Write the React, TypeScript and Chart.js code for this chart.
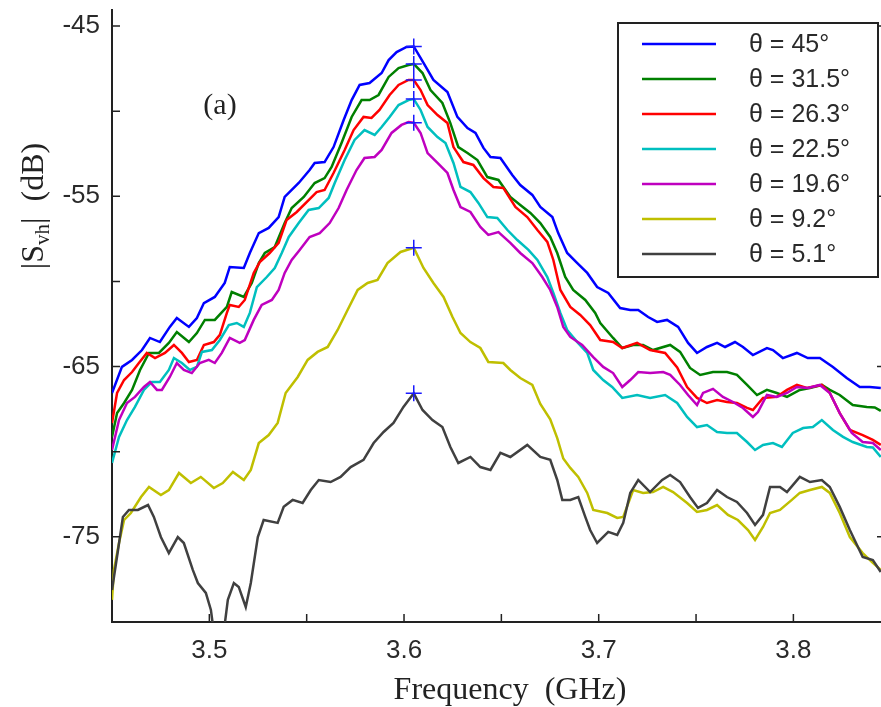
import React, { useEffect, useRef } from 'react';
import { Chart, registerables } from 'chart.js';
Chart.register(...registerables);

// ---- axis ticks ----
const xTicks = [3.5, 3.55, 3.6, 3.65, 3.7, 3.75, 3.8];
const xTickLabels = ['3.5', '', '3.6', '', '3.7', '', '3.8'];
const yTicks = [-75, -70, -65, -60, -55, -50, -45];
const yTickLabels = ['-75', '', '-65', '', '-55', '', '-45'];

// ---- series ----
const seriesLabels = ['θ = 45°', 'θ = 31.5°', 'θ = 26.3°', 'θ = 22.5°', 'θ = 19.6°', 'θ = 9.2°', 'θ = 5.1°'];
const seriesColors = ['#0000ff', '#008000', '#ff0000', '#00bfbf', '#bf00bf', '#bfbf00', '#404040'];

const peakFreq = 3.605;
const peakDb = [-46.2, -47.23, -48.17, -49.29, -50.68, -58.02, -66.57];

const s45: [number, number][] = [[3.4500,-66.55],[3.4551,-65.02],[3.4603,-64.61],[3.4654,-64.03],[3.4695,-63.32],[3.4746,-63.56],[3.4797,-62.67],[3.4833,-62.15],[3.4895,-62.67],[3.4936,-62.15],[3.4972,-61.27],[3.5028,-60.91],[3.5079,-60.09],[3.5105,-59.15],[3.5177,-59.21],[3.5208,-58.33],[3.5254,-57.16],[3.5305,-56.86],[3.5356,-56.22],[3.5387,-55.04],[3.5459,-54.22],[3.5515,-53.46],[3.5541,-53.04],[3.5592,-52.99],[3.5638,-52.11],[3.5690,-50.52],[3.5731,-49.35],[3.5772,-48.46],[3.5823,-48.35],[3.5885,-47.76],[3.5921,-47.00],[3.5962,-46.53],[3.6013,-46.23],[3.605,-46.2],[3.6100,-47.17],[3.6151,-48.17],[3.6223,-48.88],[3.6274,-50.34],[3.6326,-50.99],[3.6367,-51.28],[3.6408,-52.16],[3.6444,-52.69],[3.6495,-52.75],[3.6556,-53.75],[3.6597,-54.34],[3.6659,-54.92],[3.6700,-55.63],[3.6762,-56.22],[3.6792,-57.16],[3.6838,-58.33],[3.6890,-58.92],[3.6941,-59.50],[3.6992,-60.33],[3.7049,-60.68],[3.7110,-61.56],[3.7162,-61.68],[3.7203,-61.68],[3.7254,-62.09],[3.7300,-62.38],[3.7351,-62.26],[3.7408,-62.67],[3.7459,-63.61],[3.7505,-64.20],[3.7556,-63.85],[3.7608,-63.61],[3.7649,-63.85],[3.7700,-63.56],[3.7741,-63.85],[3.7792,-64.32],[3.7864,-63.91],[3.7895,-64.03],[3.7946,-64.50],[3.8018,-64.20],[3.8074,-64.50],[3.8136,-64.50],[3.8203,-65.02],[3.8274,-65.67],[3.8341,-66.20],[3.8392,-66.20],[3.8449,-66.26]];

const s315: [number, number][] = [[3.4500,-69.13],[3.4526,-67.73],[3.4562,-67.14],[3.4603,-66.37],[3.4644,-65.20],[3.4690,-64.20],[3.4741,-64.20],[3.4792,-63.61],[3.4833,-62.97],[3.4895,-63.56],[3.4936,-63.03],[3.4977,-62.26],[3.5028,-62.26],[3.5090,-61.50],[3.5115,-60.62],[3.5177,-60.91],[3.5218,-60.09],[3.5254,-58.92],[3.5285,-58.33],[3.5336,-57.98],[3.5387,-56.57],[3.5423,-55.69],[3.5485,-55.04],[3.5541,-54.22],[3.5592,-53.93],[3.5628,-53.28],[3.5679,-51.87],[3.5731,-50.34],[3.5782,-49.35],[3.5823,-49.35],[3.5869,-49.05],[3.5921,-47.99],[3.5972,-47.47],[3.6023,-47.29],[3.605,-47.23],[3.6095,-47.76],[3.6136,-48.76],[3.6197,-49.52],[3.6238,-50.70],[3.6279,-52.11],[3.6326,-52.46],[3.6377,-52.87],[3.6428,-53.87],[3.6485,-54.04],[3.6546,-55.04],[3.6597,-55.51],[3.6649,-55.98],[3.6700,-56.57],[3.6751,-57.39],[3.6787,-58.33],[3.6828,-59.74],[3.6869,-60.50],[3.6931,-61.09],[3.6982,-61.85],[3.7008,-62.44],[3.7074,-63.32],[3.7121,-63.91],[3.7177,-63.73],[3.7228,-63.73],[3.7279,-64.03],[3.7367,-63.73],[3.7418,-64.14],[3.7469,-65.08],[3.7521,-65.49],[3.7587,-65.32],[3.7659,-65.32],[3.7710,-65.49],[3.7762,-66.08],[3.7813,-66.67],[3.7864,-66.37],[3.7915,-66.55],[3.7967,-66.78],[3.8033,-66.37],[3.8085,-66.26],[3.8146,-66.08],[3.8187,-66.37],[3.8238,-66.67],[3.8305,-67.26],[3.8377,-67.37],[3.8418,-67.40],[3.8449,-67.60]];

const s263: [number, number][] = [[3.4500,-68.31],[3.4526,-66.55],[3.4562,-65.79],[3.4603,-65.32],[3.4638,-64.79],[3.4679,-64.20],[3.4721,-64.50],[3.4772,-64.20],[3.4818,-63.73],[3.4859,-64.20],[3.4895,-64.73],[3.4936,-64.61],[3.4972,-63.73],[3.5023,-63.56],[3.5054,-63.14],[3.5090,-61.85],[3.5105,-61.38],[3.5151,-61.50],[3.5182,-61.09],[3.5228,-59.50],[3.5259,-58.86],[3.5310,-58.33],[3.5356,-57.74],[3.5397,-56.39],[3.5449,-55.92],[3.5510,-55.22],[3.5551,-54.75],[3.5592,-54.63],[3.5638,-53.63],[3.5695,-52.28],[3.5741,-51.11],[3.5792,-50.34],[3.5833,-50.40],[3.5874,-49.93],[3.5926,-49.05],[3.5972,-48.46],[3.6023,-48.17],[3.605,-48.17],[3.6085,-48.76],[3.6121,-49.64],[3.6172,-50.23],[3.6223,-50.70],[3.6254,-52.11],[3.6305,-52.99],[3.6356,-53.16],[3.6408,-53.93],[3.6459,-54.45],[3.6510,-54.51],[3.6572,-55.63],[3.6633,-56.22],[3.6685,-56.98],[3.6736,-57.68],[3.6767,-58.74],[3.6803,-60.50],[3.6854,-61.50],[3.6905,-61.97],[3.6956,-62.56],[3.7008,-63.44],[3.7074,-63.56],[3.7121,-63.91],[3.7197,-63.61],[3.7264,-64.03],[3.7341,-64.20],[3.7403,-65.05],[3.7454,-66.20],[3.7505,-66.84],[3.7556,-67.14],[3.7608,-66.96],[3.7659,-67.08],[3.7710,-67.14],[3.7762,-67.43],[3.7792,-67.55],[3.7844,-66.84],[3.7915,-66.78],[3.7967,-66.37],[3.8018,-66.08],[3.8069,-66.26],[3.8146,-66.08],[3.8187,-66.55],[3.8238,-67.73],[3.8290,-68.72],[3.8356,-69.02],[3.8408,-69.31],[3.8449,-69.60]];

const s225: [number, number][] = [[3.4500,-70.66],[3.4536,-69.13],[3.4577,-68.14],[3.4618,-67.37],[3.4664,-66.37],[3.4705,-65.90],[3.4746,-65.90],[3.4792,-65.20],[3.4818,-64.50],[3.4859,-64.79],[3.4900,-65.20],[3.4936,-65.02],[3.4962,-64.14],[3.5013,-64.03],[3.5054,-63.44],[3.5100,-62.56],[3.5141,-62.44],[3.5177,-62.67],[3.5208,-61.85],[3.5244,-60.33],[3.5295,-59.74],[3.5336,-59.21],[3.5372,-58.33],[3.5408,-57.39],[3.5459,-56.57],[3.5510,-55.80],[3.5562,-55.69],[3.5613,-55.10],[3.5644,-54.22],[3.5695,-52.87],[3.5746,-51.69],[3.5797,-51.11],[3.5849,-51.40],[3.5885,-50.93],[3.5926,-50.34],[3.5972,-49.64],[3.6023,-49.35],[3.605,-49.29],[3.6085,-49.93],[3.6121,-50.93],[3.6172,-51.52],[3.6213,-51.87],[3.6254,-53.04],[3.6290,-54.45],[3.6341,-54.75],[3.6382,-55.39],[3.6428,-56.22],[3.6479,-56.27],[3.6531,-56.98],[3.6582,-57.57],[3.6639,-58.15],[3.6685,-58.74],[3.6736,-59.74],[3.6767,-60.68],[3.6803,-61.85],[3.6838,-62.85],[3.6890,-63.56],[3.6941,-64.20],[3.6972,-65.20],[3.7023,-65.79],[3.7069,-66.20],[3.7121,-66.84],[3.7197,-66.67],[3.7264,-66.84],[3.7341,-66.67],[3.7403,-67.14],[3.7454,-67.96],[3.7505,-68.55],[3.7556,-68.43],[3.7608,-68.84],[3.7659,-68.90],[3.7710,-68.90],[3.7762,-69.43],[3.7803,-69.90],[3.7844,-69.60],[3.7895,-69.49],[3.7941,-69.72],[3.7997,-68.90],[3.8050,-68.61],[3.8100,-68.55],[3.8146,-68.14],[3.8203,-68.72],[3.8255,-69.13],[3.8305,-69.43],[3.8377,-69.72],[3.8408,-69.75],[3.8449,-70.31]];

const s196: [number, number][] = [[3.4500,-69.90],[3.4536,-68.14],[3.4577,-67.14],[3.4618,-66.78],[3.4664,-66.20],[3.4695,-65.90],[3.4731,-66.37],[3.4756,-66.37],[3.4797,-65.61],[3.4833,-64.79],[3.4869,-65.20],[3.4910,-65.38],[3.4951,-64.79],[3.4997,-64.61],[3.5028,-64.79],[3.5064,-64.20],[3.5105,-63.32],[3.5156,-63.61],[3.5182,-63.44],[3.5228,-62.26],[3.5269,-61.38],[3.5321,-61.09],[3.5356,-60.50],[3.5387,-59.50],[3.5423,-58.74],[3.5464,-58.15],[3.5515,-57.39],[3.5567,-57.16],[3.5618,-56.57],[3.5664,-55.69],[3.5705,-54.63],[3.5756,-53.46],[3.5797,-52.75],[3.5849,-52.69],[3.5885,-52.28],[3.5936,-51.28],[3.5987,-50.81],[3.6023,-50.64],[3.605,-50.68],[3.6085,-51.28],[3.6121,-52.46],[3.6172,-53.04],[3.6223,-53.63],[3.6254,-54.63],[3.6290,-55.63],[3.6341,-55.92],[3.6392,-56.80],[3.6433,-57.27],[3.6485,-57.10],[3.6546,-57.74],[3.6597,-58.33],[3.6659,-58.92],[3.6710,-59.74],[3.6751,-60.50],[3.6787,-61.50],[3.6818,-62.67],[3.6854,-63.26],[3.6915,-63.73],[3.6972,-64.44],[3.7023,-65.02],[3.7074,-65.38],[3.7121,-66.20],[3.7162,-65.79],[3.7203,-65.32],[3.7264,-65.38],[3.7331,-65.32],[3.7367,-65.49],[3.7418,-66.08],[3.7459,-66.67],[3.7505,-67.26],[3.7536,-66.55],[3.7587,-66.31],[3.7638,-66.78],[3.7690,-67.08],[3.7741,-67.43],[3.7792,-67.96],[3.7818,-67.67],[3.7864,-66.67],[3.7915,-66.78],[3.7967,-66.55],[3.8018,-66.20],[3.8074,-66.26],[3.8136,-66.08],[3.8187,-66.55],[3.8238,-67.73],[3.8300,-68.90],[3.8356,-69.43],[3.8408,-69.49],[3.8449,-69.90]];

const s92: [number, number][] = [[3.4500,-78.70],[3.4510,-76.94],[3.4536,-75.36],[3.4562,-74.01],[3.4597,-73.60],[3.4649,-72.66],[3.4690,-72.07],[3.4751,-72.54],[3.4792,-72.25],[3.4844,-71.25],[3.4905,-71.84],[3.4956,-71.48],[3.5023,-72.13],[3.5069,-71.84],[3.5121,-71.19],[3.5177,-71.66],[3.5213,-71.07],[3.5254,-69.49],[3.5305,-69.02],[3.5351,-68.31],[3.5392,-66.55],[3.5454,-65.61],[3.5505,-64.61],[3.5556,-64.14],[3.5608,-63.85],[3.5659,-62.85],[3.5710,-61.68],[3.5762,-60.50],[3.5813,-60.09],[3.5864,-59.91],[3.5915,-58.92],[3.5982,-58.27],[3.605,-58.02],[3.6100,-59.21],[3.6151,-60.09],[3.6203,-60.91],[3.6249,-62.09],[3.6290,-63.03],[3.6341,-63.56],[3.6392,-63.91],[3.6433,-64.73],[3.6510,-64.79],[3.6546,-65.20],[3.6597,-65.67],[3.6659,-66.08],[3.6700,-67.20],[3.6751,-68.10],[3.6787,-69.20],[3.6818,-70.40],[3.6854,-70.95],[3.6895,-71.48],[3.6941,-72.42],[3.6972,-73.42],[3.7044,-73.60],[3.7095,-73.89],[3.7126,-73.83],[3.7177,-72.25],[3.7228,-72.42],[3.7279,-72.37],[3.7331,-72.07],[3.7382,-72.37],[3.7454,-73.01],[3.7505,-73.54],[3.7556,-73.42],[3.7608,-73.13],[3.7664,-73.71],[3.7715,-74.01],[3.7767,-74.60],[3.7803,-75.18],[3.7844,-74.42],[3.7880,-73.60],[3.7931,-73.42],[3.7992,-72.83],[3.8033,-72.42],[3.8085,-72.25],[3.8146,-72.07],[3.8187,-72.42],[3.8238,-73.60],[3.8290,-75.01],[3.8356,-75.95],[3.8408,-76.53],[3.8449,-76.94]];

const s51: [number, number][] = [[3.4500,-78.12],[3.4531,-75.77],[3.4556,-73.83],[3.4587,-73.42],[3.4633,-73.42],[3.4685,-73.13],[3.4715,-73.83],[3.4751,-75.01],[3.4792,-75.95],[3.4838,-75.01],[3.4869,-75.36],[3.4915,-76.94],[3.4941,-77.71],[3.4982,-78.29],[3.5008,-79.29],[3.5023,-80.60],[3.5074,-80.60],[3.5095,-78.70],[3.5126,-77.71],[3.5151,-77.94],[3.5187,-79.12],[3.5213,-77.71],[3.5249,-75.01],[3.5279,-74.01],[3.5351,-74.18],[3.5382,-73.24],[3.5428,-72.83],[3.5479,-73.01],[3.5521,-72.25],[3.5562,-71.66],[3.5623,-71.78],[3.5674,-71.48],[3.5726,-70.90],[3.5792,-70.48],[3.5844,-69.49],[3.5895,-68.84],[3.5946,-68.31],[3.5997,-67.37],[3.605,-66.57],[3.6095,-67.55],[3.6146,-68.14],[3.6197,-68.55],[3.6238,-69.72],[3.6279,-70.66],[3.6341,-70.31],[3.6392,-70.90],[3.6444,-71.07],[3.6495,-70.07],[3.6546,-70.31],[3.6633,-69.60],[3.6700,-70.31],[3.6751,-70.48],[3.6787,-71.66],[3.6813,-72.83],[3.6854,-72.83],[3.6895,-72.66],[3.6931,-73.83],[3.6956,-74.60],[3.6992,-75.36],[3.7049,-74.71],[3.7095,-74.89],[3.7126,-74.18],[3.7162,-72.42],[3.7203,-71.66],[3.7264,-72.37],[3.7326,-71.66],[3.7367,-71.37],[3.7418,-71.78],[3.7469,-72.66],[3.7510,-73.30],[3.7556,-73.01],[3.7608,-72.25],[3.7659,-72.66],[3.7710,-72.95],[3.7762,-73.60],[3.7803,-74.30],[3.7844,-73.71],[3.7880,-72.07],[3.7931,-72.07],[3.7967,-72.37],[3.8033,-71.48],[3.8085,-71.78],[3.8146,-71.66],[3.8187,-72.07],[3.8238,-73.24],[3.8290,-74.60],[3.8356,-76.18],[3.8408,-76.36],[3.8449,-77.06]];

const allSeries = [s45, s315, s263, s225, s196, s92, s51];

const SANS = '"Liberation Sans", Arial, sans-serif';
const SERIF = '"Liberation Serif", "Times New Roman", serif';

const decorPlugin = {
  id: 'decor',
  afterDraw(chart: any) {
    const { ctx, chartArea, scales } = chart;
    const xs = scales.x;
    const ys = scales.y;
    ctx.save();
    // inward tick marks
    ctx.strokeStyle = '#222';
    ctx.lineWidth = 1.5;
    ctx.beginPath();
    xTicks.forEach((v) => {
      const px = xs.getPixelForValue(v);
      ctx.moveTo(px, chartArea.bottom);
      ctx.lineTo(px, chartArea.bottom - 8);
    });
    yTicks.forEach((v, i) => {
      const py = ys.getPixelForValue(v);
      ctx.moveTo(chartArea.left, py);
      ctx.lineTo(chartArea.left + 8, py);
      if (yTickLabels[i]) {
        ctx.moveTo(chartArea.right, py);
        ctx.lineTo(chartArea.right - 4, py);
      }
    });
    ctx.stroke();

    // legend
    const lx = 618, ly = 23, lw = 260, lh = 254;
    ctx.fillStyle = '#fff';
    ctx.fillRect(lx, ly, lw, lh);
    ctx.strokeStyle = '#222';
    ctx.lineWidth = 2;
    ctx.strokeRect(lx, ly, lw, lh);
    ctx.font = `25px ${SANS}`;
    ctx.textBaseline = 'middle';
    ctx.textAlign = 'left';
    seriesLabels.forEach((lab, i) => {
      const yy = ly + 21 + i * 35;
      ctx.strokeStyle = seriesColors[i];
      ctx.lineWidth = 2.5;
      ctx.beginPath();
      ctx.moveTo(lx + 24, yy);
      ctx.lineTo(lx + 98, yy);
      ctx.stroke();
      ctx.fillStyle = '#2a2a2a';
      ctx.fillText(lab, lx + 131, yy + 1);
    });

    // panel label
    ctx.fillStyle = '#222';
    ctx.font = `30px ${SERIF}`;
    ctx.textAlign = 'center';
    ctx.textBaseline = 'middle';
    ctx.fillText('(a)', 220, 106);

    // x title
    ctx.font = `32px ${SERIF}`;
    ctx.textBaseline = 'alphabetic';
    ctx.fillText('Frequency  (GHz)', 510, 699);

    // y title with subscript
    ctx.save();
    ctx.translate(43, 206);
    ctx.rotate(-Math.PI / 2);
    const big = `32px ${SERIF}`;
    const small = `21px ${SERIF}`;
    const parts: [string, string, number][] = [
      ['|S', big, 0],
      ['vh', small, 6],
      ['|  (dB)', big, 0],
    ];
    let total = 0;
    parts.forEach(([t, f]) => { ctx.font = f; total += ctx.measureText(t).width; });
    let cx = -total / 2;
    ctx.textAlign = 'left';
    parts.forEach(([t, f, dy]) => {
      ctx.font = f;
      ctx.fillText(t, cx, dy);
      cx += ctx.measureText(t).width;
    });
    ctx.restore();

    ctx.restore();
  },
};

const zeroPad = (s: any) => {
  s.paddingLeft = 0;
  s.paddingRight = 0;
  s.paddingTop = 0;
  s.paddingBottom = 0;
};

export default function App() {
  const ref = useRef<HTMLCanvasElement>(null);
  useEffect(() => {
    if (!ref.current) return;
    const lineSets = allSeries.map((s, i) => ({
      label: seriesLabels[i],
      data: s.map(([x, y]) => ({ x, y })),
      borderColor: seriesColors[i],
      backgroundColor: seriesColors[i],
      borderWidth: 2.5,
      pointRadius: 0,
      tension: 0,
      fill: false,
      order: 7 - i,
    }));
    const markers = {
      type: 'scatter' as const,
      label: 'peaks',
      data: peakDb.map((y) => ({ x: peakFreq, y })),
      showLine: false,
      pointStyle: 'cross',
      pointRadius: 8,
      borderColor: '#1a1aff',
      backgroundColor: '#1a1aff',
      borderWidth: 1.5,
      order: 0,
    };
    const chart = new Chart(ref.current, {
      type: 'line',
      data: { datasets: [...lineSets, markers] as any },
      options: {
        animation: false,
        responsive: false,
        devicePixelRatio: 1,
        layout: { autoPadding: false, padding: { top: 10, right: 0, left: 0, bottom: 0 } },
        plugins: { legend: { display: false }, tooltip: { enabled: false } },
        scales: {
          x: {
            type: 'linear',
            min: 3.45,
            max: 3.845,
            afterBuildTicks: (s: any) => { s.ticks = xTicks.map((v) => ({ value: v })); },
            afterFit: (s: any) => { s.height = 85; zeroPad(s); },
            grid: { display: false, drawTicks: false },
            border: { display: true, color: '#222', width: 2 },
            ticks: {
              autoSkip: false,
              maxRotation: 0,
              padding: 13,
              color: '#2a2a2a',
              font: { family: SANS, size: 26 },
              callback: (_v: any, i: number) => xTickLabels[i],
            },
          },
          y: {
            type: 'linear',
            min: -80,
            max: -44.06,
            afterBuildTicks: (s: any) => { s.ticks = yTicks.map((v) => ({ value: v })); },
            afterFit: (s: any) => { s.width = 112; zeroPad(s); },
            grid: { display: false, drawTicks: false },
            border: { display: true, color: '#222', width: 2 },
            ticks: {
              autoSkip: false,
              padding: 12,
              color: '#2a2a2a',
              font: { family: SANS, size: 26 },
              callback: (_v: any, i: number) => yTickLabels[i],
            },
          },
        },
      } as any,
      plugins: [decorPlugin],
    });
    return () => chart.destroy();
  }, []);
  return (
    <div style={{ position: 'fixed', left: 0, top: 0, width: 881, height: 707, background: '#fff' }}>
      <canvas ref={ref} width={881} height={707} style={{ width: 881, height: 707, display: 'block' }} />
    </div>
  );
}
